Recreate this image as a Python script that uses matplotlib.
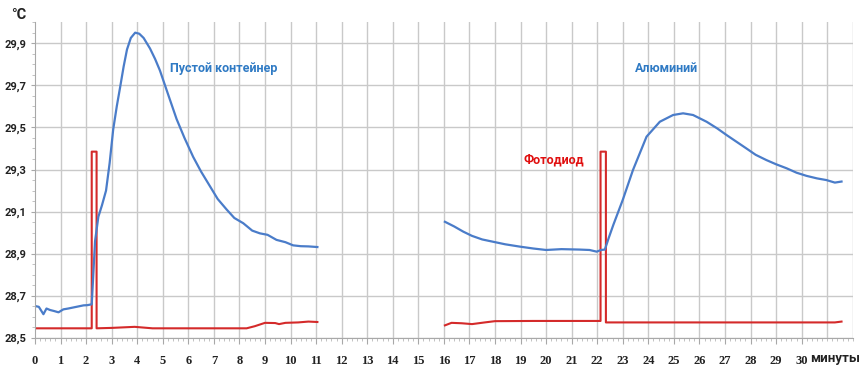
"""Temperature vs time: empty container vs aluminium, with photodiode pulse."""

import matplotlib

matplotlib.use("Agg")
import matplotlib.pyplot as plt  # noqa: E402
from matplotlib.ticker import MultipleLocator  # noqa: E402

BLUE = "#4a7cc9"
RED = "#d42a2a"
LBL_BLUE = "#2f7ac4"
LBL_RED = "#e00f0f"
GRID = "#c9c9c9"
SANS = ["Roboto", "DejaVu Sans"]

# empty container run (minutes, degC)
t_empty = [0.0, 0.15, 0.33, 0.45, 0.59, 0.75, 0.92, 1.11, 1.3, 1.5, 1.7, 1.9, 2.05, 2.22,
           2.35, 2.48, 2.62, 2.78, 2.92, 3.06, 3.2, 3.33, 3.47, 3.6, 3.75, 3.92, 4.08,
           4.25, 4.5, 4.7, 4.89, 5.2, 5.54, 5.85, 6.19, 6.5, 6.85, 7.15, 7.5, 7.8, 8.15,
           8.5, 8.8, 9.1, 9.45, 9.8, 10.1, 10.4, 10.7, 11.05]
y_empty = [28.652, 28.648, 28.613, 28.64, 28.633, 28.628, 28.622, 28.636, 28.64, 28.645,
           28.65, 28.655, 28.656, 28.66, 28.96, 29.076, 29.13, 29.20, 29.33, 29.49,
           29.60, 29.69, 29.79, 29.87, 29.925, 29.95, 29.945, 29.925, 29.875, 29.825,
           29.77, 29.66, 29.54, 29.45, 29.36, 29.29, 29.22, 29.16, 29.11, 29.07, 29.045,
           29.01, 28.997, 28.99, 28.966, 28.955, 28.94, 28.936, 28.935, 28.932]

# aluminium run
t_alu = [16.04, 16.4, 16.76, 17.1, 17.5, 17.93, 18.4, 18.97, 19.5, 20.0, 20.6, 21.3,
         21.7, 21.98, 22.15, 22.3, 22.45, 22.63, 23.0, 23.4, 23.93, 24.45, 24.97, 25.36,
         25.75, 26.28, 26.7, 27.06, 27.45, 27.84, 28.2, 28.62, 29.0, 29.41, 29.8, 30.19,
         30.6, 30.97, 31.3, 31.56]
y_alu = [29.052, 29.03, 29.005, 28.985, 28.968, 28.957, 28.945, 28.934, 28.925, 28.918,
         28.922, 28.92, 28.918, 28.91, 28.918, 28.92, 28.975, 29.037, 29.156, 29.298,
         29.456, 29.527, 29.559, 29.567, 29.559, 29.527, 29.495, 29.464, 29.432, 29.40,
         29.37, 29.345, 29.325, 29.306, 29.285, 29.27, 29.258, 29.25, 29.238, 29.243]

# photodiode signal (arbitrary, drawn on the same scale)
t_diode1 = [0.0, 2.22, 2.22, 2.41, 2.41, 3.0, 3.9, 4.1, 4.6, 8.28, 8.6, 9.0, 9.4, 9.55,
            9.8, 10.3, 10.7, 11.05]
y_diode1 = [28.546, 28.546, 29.385, 29.385, 28.546, 28.548, 28.553, 28.551, 28.546, 28.546,
            28.556, 28.572, 28.571, 28.566, 28.572, 28.574, 28.578, 28.576]
t_diode2 = [16.04, 16.3, 16.7, 17.1, 17.6, 18.0, 19.5, 21.0, 22.13, 22.13, 22.34, 22.34,
            23.0, 27.0, 31.3, 31.56]
y_diode2 = [28.56, 28.572, 28.57, 28.566, 28.574, 28.58, 28.581, 28.581, 28.581, 29.385,
            29.385, 28.574, 28.574, 28.574, 28.574, 28.578]

y_ticks = [28.5, 28.7, 28.9, 29.1, 29.3, 29.5, 29.7, 29.9]
x_ticks = list(range(0, 31))


def main() -> None:
    fig = plt.figure(figsize=(8.64, 3.69), dpi=100)
    ax = fig.add_axes([0.0405, 0.084, 0.9465, 0.856])

    ax.plot(t_diode1, y_diode1, color=RED, lw=1.5)
    ax.plot(t_diode2, y_diode2, color=RED, lw=1.5)
    ax.plot(t_empty, y_empty, color=BLUE, lw=1.6)
    ax.plot(t_alu, y_alu, color=BLUE, lw=1.6)

    ax.set_xlim(0, 32)
    ax.set_ylim(28.5, 30.0)

    ax.set_xticks(x_ticks)
    ax.set_xticklabels([str(v) for v in x_ticks], family="Liberation Serif",
                       fontweight="bold", fontsize=9)
    ax.xaxis.set_minor_locator(MultipleLocator(0.2))
    ax.set_yticks(y_ticks)
    ax.set_yticklabels([f"{v:.1f}".replace(".", ",") for v in y_ticks],
                       family=SANS, fontweight="bold", fontsize=8)
    ax.yaxis.set_minor_locator(MultipleLocator(0.05))

    # vertical grid every minute, up to 32
    for x in range(1, 33):
        ax.axvline(x, color=GRID, lw=1.0, zorder=0)
    ax.grid(axis="y", color=GRID, lw=1.0, zorder=0)
    ax.set_axisbelow(True)

    for s in ("top", "right"):
        ax.spines[s].set_visible(False)
    for s in ("left", "bottom"):
        ax.spines[s].set_color("#a8a8a8")
    ax.tick_params(which="major", length=4, color="#a8a8a8", pad=8, labelcolor="#222222")
    ax.tick_params(axis="y", which="major", pad=3, length=3)
    ax.tick_params(which="minor", length=2, color="#b8b8b8")

    fig.text(0.013, 0.948, "°C", family=SANS, fontweight="bold", fontsize=10.5,
             color="#222222")
    fig.text(0.938, 0.02, "минуты", family=SANS, fontweight="bold", fontsize=9.5,
             color="#222222")

    ax.text(7.4, 29.78, "Пустой контейнер", color=LBL_BLUE, family=SANS,
            fontweight="bold", fontsize=9, ha="center", va="center")
    ax.text(24.7, 29.78, "Алюминий", color=LBL_BLUE, family=SANS,
            fontweight="bold", fontsize=9, ha="center", va="center")
    ax.text(20.3, 29.345, "Фотодиод", color=LBL_RED, family=SANS,
            fontweight="bold", fontsize=9, ha="center", va="center")

    fig.savefig("out.png", dpi=100, facecolor="white")
    plt.close(fig)


if __name__ == "__main__":
    main()
